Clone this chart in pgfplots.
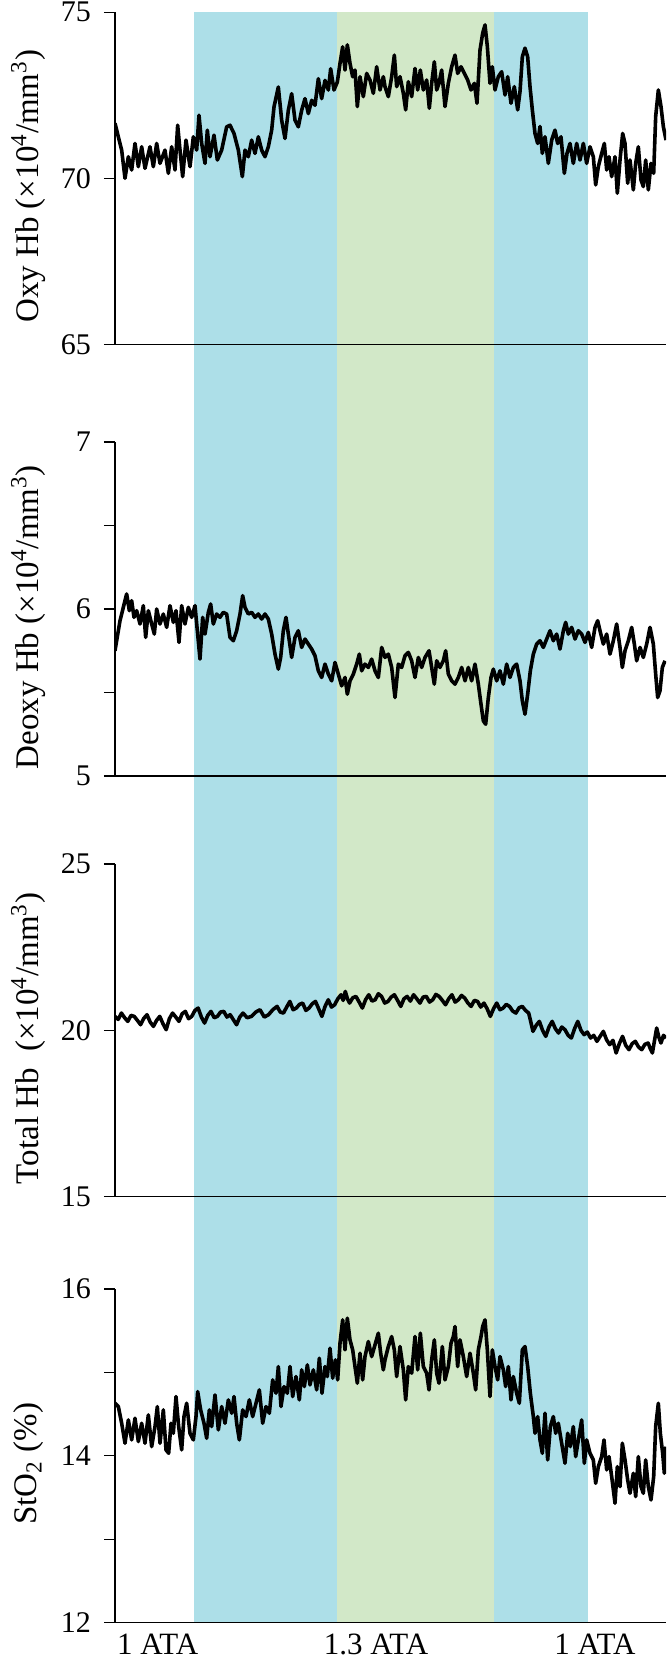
\documentclass[border=0pt]{standalone}
\usepackage{fontspec}
\setmainfont{Liberation Serif}
\usepackage{pgfplots}
\pgfplotsset{compat=1.18}
\definecolor{bandblue}{HTML}{ADDFE8}
\definecolor{bandgreen}{HTML}{D2E8C8}

% one stacked panel: 1px of the reference = 0.5pt
\pgfplotsset{
  panel/.style={
    scale only axis, width=275.5pt, xmin=0, xmax=1653,
    anchor=north west,
    axis x line*=bottom, axis y line*=left,
    axis line style={line width=0.6pt, black},
    xtick=\empty,
    tick align=outside, major tick length=5.5pt,
    tick style={line width=0.6pt, black},
    tick label style={font=\fontsize{15}{18}\selectfont},
    yticklabel style={xshift=-3pt},
    /pgf/number format/assume math mode=true,
    ylabel style={font=\fontsize{16.5}{20}\selectfont,
      at={(axis description cs:-0.157,0.476)}, anchor=center},
    clip=true,
  },
  trace/.style={black, line width=1.8pt, line join=round},
}

\begin{document}
\begin{tikzpicture}

% background bands across all four panels
\begin{axis}[scale only axis, width=275.5pt, height=805.1pt,
  at={(57.5pt,-6.15pt)}, anchor=north west,
  xmin=0, xmax=1653, ymin=0, ymax=1, hide axis]
\addplot[draw=none, fill=bandblue] coordinates {(237.9,0)(666,0)(666,1)(237.9,1)} -- cycle;
\addplot[draw=none, fill=bandgreen] coordinates {(666,0)(1137,0)(1137,1)(666,1)} -- cycle;
\addplot[draw=none, fill=bandblue] coordinates {(1137,0)(1419,0)(1419,1)(1137,1)} -- cycle;
\end{axis}

% Oxy Hb
\begin{axis}[panel, height=166pt, at={(57.5pt,-6.15pt)},
  ymin=65, ymax=75, ytick={65,70,75},
  ylabel={Oxy Hb (×10\textsuperscript{4}/mm\textsuperscript{3})}]
\addplot[trace] coordinates {
(0,71.66)(10,71.25)(20,70.85)(30,70.0)(40,70.65)(50,70.25)(60,71.05)(70,70.35)(80,70.95)(90,70.3)
(105,70.95)(115,70.35)(125,71.05)(135,70.45)(150,70.85)(160,70.15)(170,70.95)(180,70.25)(188,71.6)(195,70.85)
(203,70.05)(213,71.15)(225,70.35)(235,71.25)(245,70.85)(252,71.9)(260,71.05)(270,70.45)(277,71.45)(285,70.65)
(297,71.3)(307,70.55)(320,70.85)(335,71.55)(345,71.6)(357,71.35)(370,70.85)(382,70.05)(390,70.85)(400,70.65)
(410,71.15)(420,70.75)(430,71.25)(440,70.85)(450,70.65)(460,70.95)(470,71.45)(477,72.15)(490,72.75)(500,71.75)
(510,71.2)(520,72.05)(530,72.55)(540,71.75)(550,71.55)(560,72.05)(570,72.4)(580,71.95)(590,72.35)(600,72.2)
(610,73.0)(620,72.4)(630,72.95)(640,72.66)(647,73.3)(657,72.66)(667,72.9)(675,73.46)(683,73.96)(690,73.26)
(697,74.02)(705,73.46)(713,73.06)(720,73.26)(727,72.16)(735,73.06)(745,72.46)(755,73.16)(765,72.96)(775,72.56)
(785,73.36)(795,72.66)(805,73.06)
(810,72.76)(820,72.46)(830,73.06)(838,73.71)(845,72.76)(855,73.06)(865,72.56)(872,72.06)(880,72.91)(890,72.46)
(900,73.31)(908,72.66)(916,73.26)(925,72.66)(935,72.96)(943,72.11)(950,72.86)(958,73.51)(965,72.66)(972,72.86)
(980,73.26)(990,72.16)(1000,72.86)(1010,73.36)(1020,73.71)(1028,73.16)(1038,73.36)(1048,73.16)(1058,72.96)(1068,72.66)
(1078,72.86)(1086,72.26)(1095,73.86)(1103,74.37)(1110,74.62)(1117,73.97)(1125,72.86)(1132,73.36)(1140,72.66)(1150,73.06)
(1160,73.21)(1170,72.51)(1178,73.06)(1188,72.26)(1198,72.76)(1208,72.06)(1215,72.61)(1222,73.66)(1230,73.92)(1238,73.66)
(1245,72.76)(1252,72.06)(1260,71.35)(1268,71.05)(1275,71.56)(1282,70.75)(1290,71.25)(1300,70.45)(1310,71.15)(1320,71.45)
(1328,71.05)(1338,71.25)(1348,70.15)(1356,70.75)(1365,71.05)(1375,70.45)(1385,71.05)(1395,70.55)(1405,71.05)(1415,70.45)
(1425,70.95)(1435,70.65)(1442,69.8)(1450,70.35)(1460,70.75)(1468,71.05)(1475,70.25)(1482,70.65)(1490,70.05)(1500,70.65)
(1507,69.55)(1515,70.55)(1523,71.35)(1530,71.05)(1538,69.85)(1545,70.55)(1555,69.65)(1562,70.45)(1570,70.95)(1578,69.95)
(1585,69.75)(1592,70.55)(1600,69.65)(1608,70.45)(1616,70.15)(1622,71.86)(1630,72.66)(1638,72.16)(1645,71.56)(1653,71.15)
};
\end{axis}

% Deoxy Hb
\begin{axis}[panel, height=167pt, at={(57.5pt,-221pt)},
  ymin=5, ymax=7, ytick={5,5.5,6,6.5,7}, yticklabels={5,,6,,7},
  ylabel={Deoxy Hb (×10\textsuperscript{4}/mm\textsuperscript{3})}]
\addplot[trace] coordinates {
(0,5.75)(15,5.93)(25,6.01)(35,6.09)(43,5.99)(50,6.05)(57,5.95)(65,5.99)(75,5.91)(85,6.02)
(92,5.83)(100,5.99)(110,5.91)(118,5.85)(125,6.0)(135,5.91)(145,5.97)(155,5.89)(165,6.02)(175,5.92)
(183,5.99)(192,5.80)(200,6.02)(210,5.91)(220,6.01)(230,5.95)(240,6.02)(247,5.87)(255,5.70)(263,5.95)
(270,5.85)(280,5.98)(287,6.03)(295,5.91)(305,5.97)(315,5.95)(325,5.98)(335,5.97)(345,5.83)(355,5.81)
(365,5.87)(375,5.97)(383,6.08)(390,6.01)(400,5.97)(410,5.98)(420,5.95)(430,5.97)(440,5.94)(450,5.97)
(460,5.94)(470,5.85)(480,5.73)(490,5.64)(497,5.71)(505,5.87)(513,5.95)(520,5.85)(530,5.71)(540,5.83)
(550,5.87)(560,5.77)(570,5.82)(580,5.79)(590,5.76)(600,5.72)(610,5.63)(620,5.59)(630,5.67)(640,5.61)
(650,5.57)(660,5.68)(670,5.61)(680,5.54)(690,5.59)(697,5.49)(705,5.57)(715,5.61)(725,5.67)(733,5.73)
(740,5.63)(750,5.67)(760,5.65)(770,5.70)(780,5.63)(790,5.59)(800,5.77)
(810,5.71)(820,5.73)(830,5.65)(840,5.47)(850,5.67)(860,5.65)(870,5.72)(880,5.74)(890,5.69)(900,5.59)
(910,5.71)(920,5.65)(930,5.71)(942,5.75)(950,5.65)(958,5.55)(965,5.69)(975,5.65)(985,5.69)(992,5.75)
(1000,5.61)(1010,5.57)(1020,5.55)(1030,5.59)(1040,5.65)(1050,5.57)(1060,5.65)(1070,5.57)(1080,5.67)(1090,5.55)
(1098,5.43)(1105,5.33)(1112,5.31)(1120,5.47)(1128,5.59)(1135,5.64)(1145,5.57)(1155,5.63)(1165,5.55)(1175,5.67)
(1185,5.59)(1195,5.65)(1205,5.67)(1215,5.57)(1222,5.45)(1230,5.37)(1238,5.49)(1246,5.63)(1255,5.73)(1265,5.79)
(1275,5.81)(1285,5.77)(1295,5.82)(1305,5.87)(1315,5.81)(1325,5.85)(1335,5.76)(1345,5.87)(1352,5.92)(1360,5.85)
(1370,5.89)(1380,5.82)(1390,5.87)(1400,5.85)(1410,5.80)(1420,5.86)(1430,5.77)(1440,5.89)(1448,5.93)(1455,5.87)
(1465,5.79)(1475,5.85)(1485,5.73)(1495,5.81)(1505,5.91)(1515,5.77)(1522,5.65)(1530,5.75)(1540,5.81)(1550,5.89)
(1558,5.79)(1565,5.69)(1575,5.77)(1585,5.71)(1595,5.79)(1605,5.89)(1615,5.79)(1622,5.61)(1628,5.47)(1635,5.51)
(1642,5.65)(1650,5.69)
};
\end{axis}

% Total Hb
\begin{axis}[panel, height=166.35pt, at={(57.5pt,-432pt)},
  ymin=15, ymax=25, ytick={15,20,25},
  ylabel={Total Hb\ \ (×10\textsuperscript{4}/mm\textsuperscript{3})}]
\addplot[trace] coordinates {
(0,20.42)(9.6,20.33)(19.2,20.52)(28.8,20.38)(38.4,20.27)(48.0,20.45)(57.6,20.42)(67.2,20.30)(76.8,20.17)(86.4,20.36)
(96.0,20.47)(105.6,20.25)(115.2,20.12)(124.8,20.30)(134.3,20.42)(143.9,20.20)(153.5,20.02)(163.1,20.35)(172.7,20.52)(182.3,20.40)
(191.9,20.27)(201.5,20.50)(211.1,20.57)(220.7,20.35)(230.3,20.42)(239.9,20.60)(249.5,20.67)(259.1,20.40)(268.7,20.22)(278.3,20.45)
(287.9,20.57)(297.5,20.38)(307.1,20.42)(316.7,20.55)(326.3,20.57)(335.9,20.40)(345.5,20.47)(355.1,20.32)(364.7,20.17)(374.3,20.40)
(383.9,20.52)(396.6,20.38)(409.4,20.42)(422.2,20.55)(435.0,20.62)(447.8,20.40)(460.6,20.47)(473.4,20.62)(486.2,20.72)(495.8,20.55)
(505.4,20.52)(515.0,20.70)(524.6,20.87)(534.2,20.62)(543.8,20.67)(553.4,20.78)(563.0,20.82)(572.6,20.60)(582.2,20.67)(591.8,20.80)
(601.4,20.87)(611.0,20.65)(620.6,20.42)(630.2,20.72)(639.8,20.92)(649.4,20.70)(658.9,20.77)(668.5,20.95)(678.1,21.07)(684.5,20.90)
(690.9,21.17)(697.3,20.95)(703.7,20.82)(713.3,20.98)(722.9,21.02)(732.5,20.85)(742.1,20.67)(751.7,20.92)(761.3,21.07)(770.9,20.88)
(780.5,20.92)(790.1,21.10)(799.7,21.02)(809.3,20.82)(818.9,20.87)(828.5,21.00)(838.1,21.07)(847.7,20.90)(857.3,20.72)(866.9,20.95)
(876.5,21.02)(886.1,20.88)(895.7,21.07)(905.3,20.95)(914.8,20.82)(924.4,21.00)(934.0,21.02)(943.6,20.85)(953.2,20.92)(962.8,21.08)
(972.4,21.02)(982.0,20.90)(991.6,20.77)(1001.2,20.95)(1010.8,21.07)(1020.4,20.85)(1030.0,20.92)(1039.6,21.05)(1049.2,20.97)(1058.8,20.82)
(1068.4,20.72)(1078.0,20.90)(1087.6,20.87)(1097.2,20.70)(1106.8,20.82)(1116.4,20.65)(1126.0,20.42)(1135.6,20.65)(1145.2,20.82)(1154.8,20.62)
(1164.3,20.67)(1173.9,20.78)(1183.5,20.72)(1193.1,20.58)(1202.7,20.52)(1212.3,20.68)(1221.9,20.72)(1231.5,20.60)(1241.1,20.52)(1247.5,20.25)
(1253.9,19.97)(1263.5,20.15)(1273.1,20.27)(1282.7,20.00)(1292.3,19.82)(1301.9,20.10)(1311.5,20.27)(1321.1,20.05)(1330.7,19.92)(1340.3,20.10)
(1349.9,20.02)(1359.5,19.85)(1369.1,19.77)(1378.7,20.05)(1388.3,20.27)(1397.9,20.00)(1407.5,19.87)(1417.0,19.95)(1426.6,19.77)(1436.2,19.85)
(1445.8,19.67)(1455.4,19.82)(1465.0,19.97)(1474.6,19.72)(1484.2,19.57)(1493.8,19.70)(1503.4,19.32)(1513.0,19.60)(1522.6,19.82)(1532.2,19.55)
(1541.8,19.42)(1551.4,19.60)(1561.0,19.67)(1570.6,19.50)(1580.2,19.42)(1589.8,19.58)(1599.4,19.62)(1605.8,19.45)(1612.2,19.32)(1618.6,19.70)
(1625.0,20.07)(1631.4,19.80)(1637.8,19.62)(1645.4,19.85)(1653.1,19.77)
};
\end{axis}

% StO2
\begin{axis}[panel, height=166.75pt, at={(57.5pt,-644.5pt)},
  ymin=12, ymax=16, ytick={12,13,14,15,16}, yticklabels={12,,14,,16},
  xtick={127.8,783,1440}, xticklabels={1 ATA,1.3 ATA,1 ATA},
  xtick style={draw=none},
  xticklabel style={font=\fontsize{15.5}{18}\selectfont, yshift=3.5pt},
  x axis line style={line width=0.9pt},
  ylabel={StO\textsubscript{2} (\%)}]
\addplot[trace] coordinates {
(0,14.63)(10,14.59)(20,14.39)(30,14.15)(40,14.43)(50,14.19)(60,14.45)(70,14.17)(80,14.39)(90,14.15)
(100,14.49)(110,14.11)(120,14.35)(127,14.59)(135,14.15)(145,14.55)(153,14.07)(161,14.03)(168,14.39)(175,14.27)
(183,14.71)(191,14.35)(200,14.07)(207,14.47)(215,14.63)(225,14.27)(235,14.19)(243,14.47)(248,14.77)(257,14.55)
(267,14.39)(275,14.21)(283,14.55)(290,14.35)(300,14.73)(310,14.31)(320,14.59)(330,14.39)(340,14.67)(350,14.51)
(357,14.71)(365,14.39)(373,14.19)(383,14.55)(393,14.47)(403,14.67)(413,14.47)(423,14.63)(433,14.79)(443,14.39)
(453,14.59)(463,14.51)(473,14.91)(483,14.75)(490,15.07)(498,14.59)(507,14.83)(517,14.75)(525,15.07)(533,14.71)
(543,14.95)(553,14.67)(560,15.03)(568,14.83)(577,15.09)(585,14.85)(595,15.03)(605,14.79)(613,15.17)(621,14.75)
(630,15.07)(637,14.95)(645,15.29)(653,14.93)(661,15.15)(668,14.91)(675,15.35)(683,15.63)(690,15.27)(697,15.65)
(705,15.39)(713,15.27)(720,15.07)(727,14.87)(735,15.23)(743,14.91)(750,15.19)(760,15.37)(770,15.19)(780,15.33)
(790,15.47)(797,15.23)(805,15.03)
(810,15.15)(820,15.31)(830,15.43)(838,15.27)(845,14.95)(855,15.31)(865,15.03)(872,14.67)(880,15.07)(890,14.99)
(900,15.43)(908,15.03)(916,15.47)(925,15.07)(935,14.99)(942,14.79)(950,15.15)(958,15.39)(965,14.99)(972,14.87)
(982,15.31)(990,14.91)(1000,15.07)(1008,15.35)(1015,15.43)(1020,15.55)(1028,15.07)(1035,15.39)(1045,15.19)(1055,14.95)
(1065,15.23)(1075,14.99)(1082,14.79)(1090,15.27)(1098,15.43)(1103,15.55)(1110,15.63)(1117,15.27)(1125,14.71)(1132,15.27)
(1140,15.07)(1148,14.91)(1155,15.19)(1165,15.03)(1172,14.83)(1180,15.07)(1188,14.67)(1195,14.95)(1205,14.75)(1213,14.63)
(1222,15.27)(1230,15.31)(1238,15.07)(1246,14.75)(1255,14.47)(1260,14.27)(1268,14.47)(1275,14.19)(1282,14.03)(1290,14.51)
(1298,13.95)(1306,14.35)(1315,14.47)(1322,14.27)(1330,14.39)(1340,14.15)(1350,13.91)(1358,14.27)(1366,14.11)(1375,14.35)
(1382,13.99)(1390,14.19)(1400,14.43)(1408,13.91)(1415,14.19)(1425,14.03)(1435,13.95)(1442,13.67)(1450,13.87)(1460,13.99)
(1467,14.19)(1475,13.83)(1482,13.99)(1490,13.75)(1500,13.43)(1507,13.87)(1515,13.63)(1522,14.15)(1530,13.95)(1538,13.71)
(1545,13.55)(1555,13.79)(1562,13.51)(1570,13.99)(1578,13.63)(1585,13.55)(1592,13.95)(1600,13.63)(1608,13.47)(1616,13.75)
(1622,14.35)(1630,14.63)(1636,14.27)(1643,14.03)(1648,13.79)(1653,14.11)
};
\end{axis}

\pgfresetboundingbox
\path[use as bounding box] (0,0) rectangle (334.5pt,-830pt);
\end{tikzpicture}
\end{document}
